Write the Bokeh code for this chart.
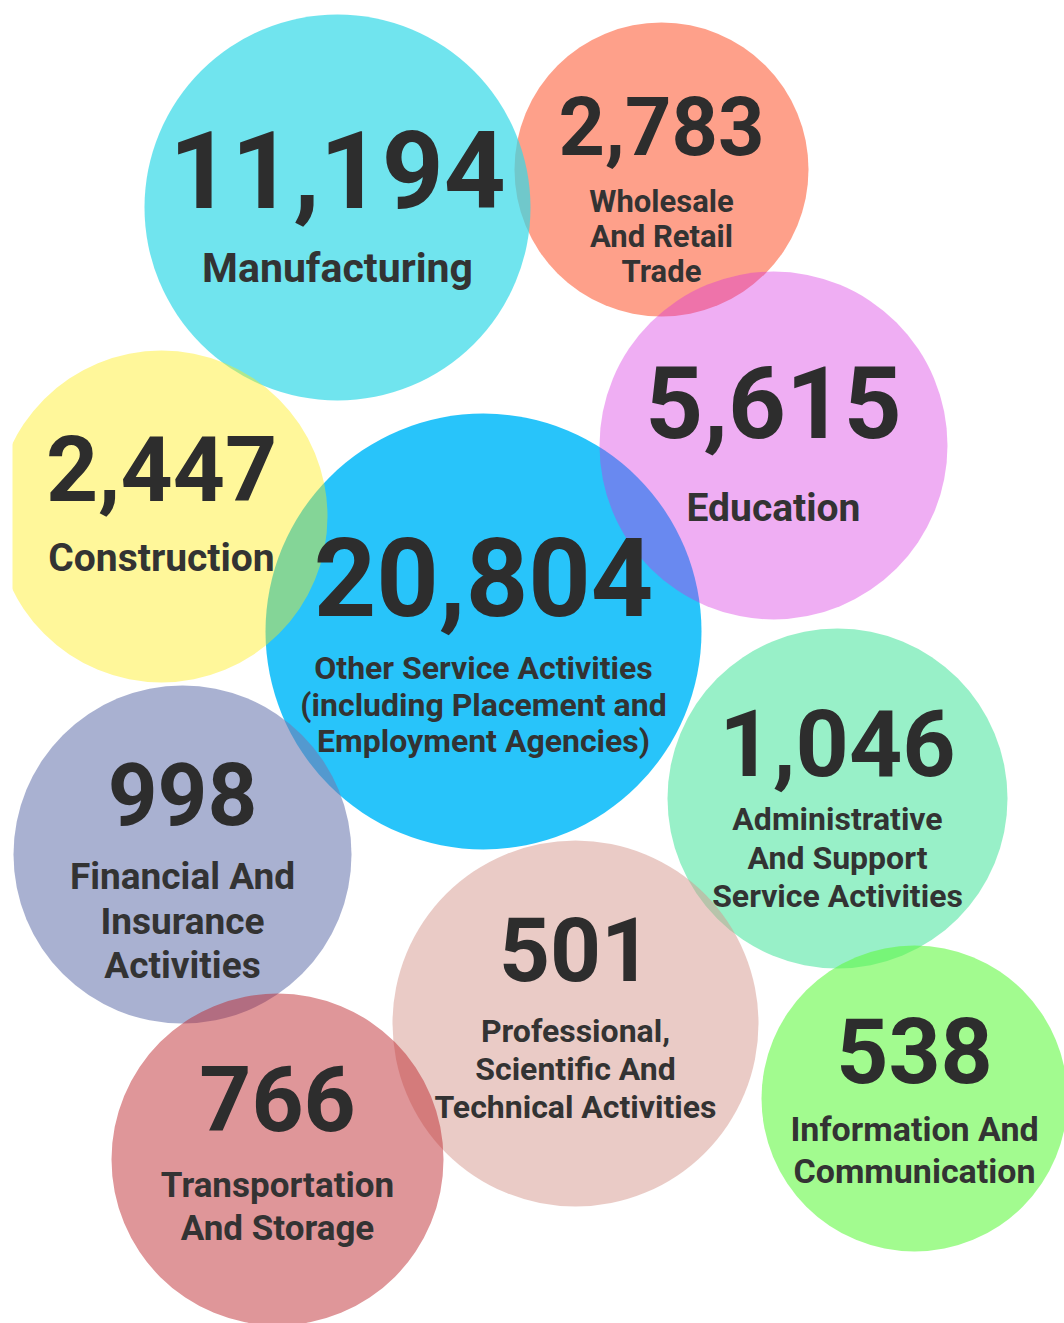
from bokeh.plotting import figure
from bokeh.models import Range1d, ColumnDataSource
from bokeh.core.properties import value
from bokeh.embed import file_html
from bokeh.resources import INLINE

# ---- data ----
categories = [
    "Other Service Activities\n(including Placement and\nEmployment Agencies)",
    "Wholesale\nAnd Retail\nTrade",
    "Manufacturing",
    "Education",
    "Construction",
    "Financial And\nInsurance\nActivities",
    "Administrative\nAnd Support\nService Activities",
    "Professional,\nScientific And\nTechnical Activities",
    "Transportation\nAnd Storage",
    "Information And\nCommunication",
]
values = [20804, 2783, 11194, 5615, 2447, 998, 1046, 501, 766, 538]

# ---- layout (bubble placement, pixel units) ----
cx = [483, 661, 337, 773, 161, 182, 837, 575, 277, 914]
cy = [631, 169, 207, 445, 516, 854, 798, 1023, 1159, 1098]
rad = [218, 147, 193, 174, 166, 169, 170, 183, 166, 153]
num_dy = [-16, -16, 0, -8, -16, -31, -23, -43, -29, -16]
num_fs = [109, 81, 108, 101, 91, 87, 93, 89, 91, 91]
lab_dy = [48, 43, 75, 76, 55, 35, 32, 19, 38, 42]
lab_gap = [36.5, 35, 0, 0, 0, 44.5, 38.5, 38, 43, 42]
lab_fs = [32, 31, 41, 39, 39, 37, 32, 32, 35, 34]

# ---- styles ----
colors = ["#11BEFA", "#FD613C", "#33D8E7", "#D52AE0", "#FFED16",
          "#707DB2", "#31E191", "#D5978D", "#BC242A", "#61F841"]
alphas = [0.9, 0.6, 0.7, 0.38, 0.43, 0.6, 0.5, 0.5, 0.48, 0.59]
BASE_SHIFT = 0.35  # renderer places the alphabetic baseline ~0.35em low

p = figure(width=1064, height=1323,
           x_range=Range1d(12, 1064), y_range=Range1d(1323, 0),
           output_backend="svg", toolbar_location=None,
           min_border=0, min_border_left=12)
p.axis.visible = False
p.grid.visible = False
p.outline_line_color = None
p.background_fill_color = "white"
p.border_fill_color = "white"

circ = ColumnDataSource(dict(x=cx, y=cy, r=rad, color=colors, alpha=alphas))
p.circle(x="x", y="y", radius="r", fill_color="color", fill_alpha="alpha",
         line_color=None, source=circ)

# numbers
nsrc = ColumnDataSource(dict(
    x=cx,
    y=[c + d - BASE_SHIFT * s for c, d, s in zip(cy, num_dy, num_fs)],
    t=[f"{v:,}" for v in values],
    fs=[f"{int(s)}px" for s in num_fs],
))
p.text(x="x", y="y", text="t", text_font_size="fs", source=nsrc,
       text_font=value("Roboto"), text_font_style="bold",
       text_align="center", text_baseline="alphabetic", text_color="#2D2D2D")

# labels (one text item per line)
lx, ly, lt, lf = [], [], [], []
for i, lab in enumerate(categories):
    for j, line in enumerate(lab.split("\n")):
        lx.append(cx[i])
        ly.append(cy[i] + lab_dy[i] + j * lab_gap[i] - BASE_SHIFT * lab_fs[i])
        lt.append(line)
        lf.append(f"{int(lab_fs[i])}px")
lsrc = ColumnDataSource(dict(x=lx, y=ly, t=lt, fs=lf))
p.text(x="x", y="y", text="t", text_font_size="fs", source=lsrc,
       text_font=value("Roboto"), text_font_style="bold",
       text_align="center", text_baseline="alphabetic", text_color="#333333")

open("out.html", "w").write(file_html(p, INLINE))
